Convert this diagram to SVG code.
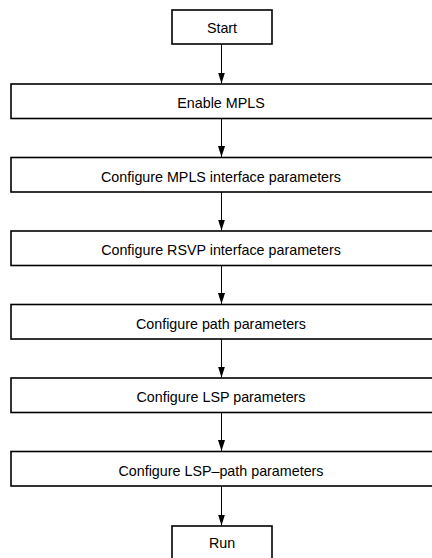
<svg xmlns="http://www.w3.org/2000/svg" width="432" height="558" viewBox="0 0 432 558">
<style>
.box{fill:#fff;stroke:#000;stroke-width:1.6}
.t{font-family:"Liberation Sans",Arial,sans-serif;font-size:14.3px;fill:#000;text-anchor:middle}
.c{stroke:#000;stroke-width:1;fill:none}
</style>
<defs>
<marker id="ah" markerWidth="11" markerHeight="7" refX="11" refY="3.5" orient="auto" markerUnits="userSpaceOnUse">
<path d="M0,0 L11,3.5 L0,7 Z" fill="#000"/>
</marker>
</defs>
<rect width="432" height="558" fill="#fff"/>
<g id="connectors">
<line class="c" x1="221.5" y1="44" x2="221.5" y2="83.5" marker-end="url(#ah)"/>
<line class="c" x1="221.5" y1="118.5" x2="221.5" y2="157" marker-end="url(#ah)"/>
<line class="c" x1="221.5" y1="192" x2="221.5" y2="230.5" marker-end="url(#ah)"/>
<line class="c" x1="221.5" y1="265.5" x2="221.5" y2="304" marker-end="url(#ah)"/>
<line class="c" x1="221.5" y1="339" x2="221.5" y2="377.5" marker-end="url(#ah)"/>
<line class="c" x1="221.5" y1="412.5" x2="221.5" y2="451" marker-end="url(#ah)"/>
<line class="c" x1="221.5" y1="486" x2="221.5" y2="525.5" marker-end="url(#ah)"/>
</g>
<g id="start"><rect class="box" x="172" y="10" width="100" height="34"/><text class="t" x="222" y="32.5">Start</text></g>
<g id="enable-mpls"><rect class="box" x="11" y="84" width="426" height="34.5"/><text class="t" x="221" y="108">Enable MPLS</text></g>
<g id="mpls-if"><rect class="box" x="11" y="157.5" width="426" height="34.5"/><text class="t" x="221" y="181.5">Configure MPLS interface parameters</text></g>
<g id="rsvp-if"><rect class="box" x="11" y="231" width="426" height="34.5"/><text class="t" x="221" y="255">Configure RSVP interface parameters</text></g>
<g id="path"><rect class="box" x="11" y="304.5" width="426" height="34.5"/><text class="t" x="221" y="328.5">Configure path parameters</text></g>
<g id="lsp"><rect class="box" x="11" y="378" width="426" height="34.5"/><text class="t" x="221" y="402">Configure LSP parameters</text></g>
<g id="lsp-path"><rect class="box" x="11" y="451.5" width="426" height="34.5"/><text class="t" x="221" y="475.5">Configure LSP–path parameters</text></g>
<g id="run"><rect class="box" x="172" y="526" width="100" height="40"/><text class="t" x="222" y="548">Run</text></g>
</svg>
